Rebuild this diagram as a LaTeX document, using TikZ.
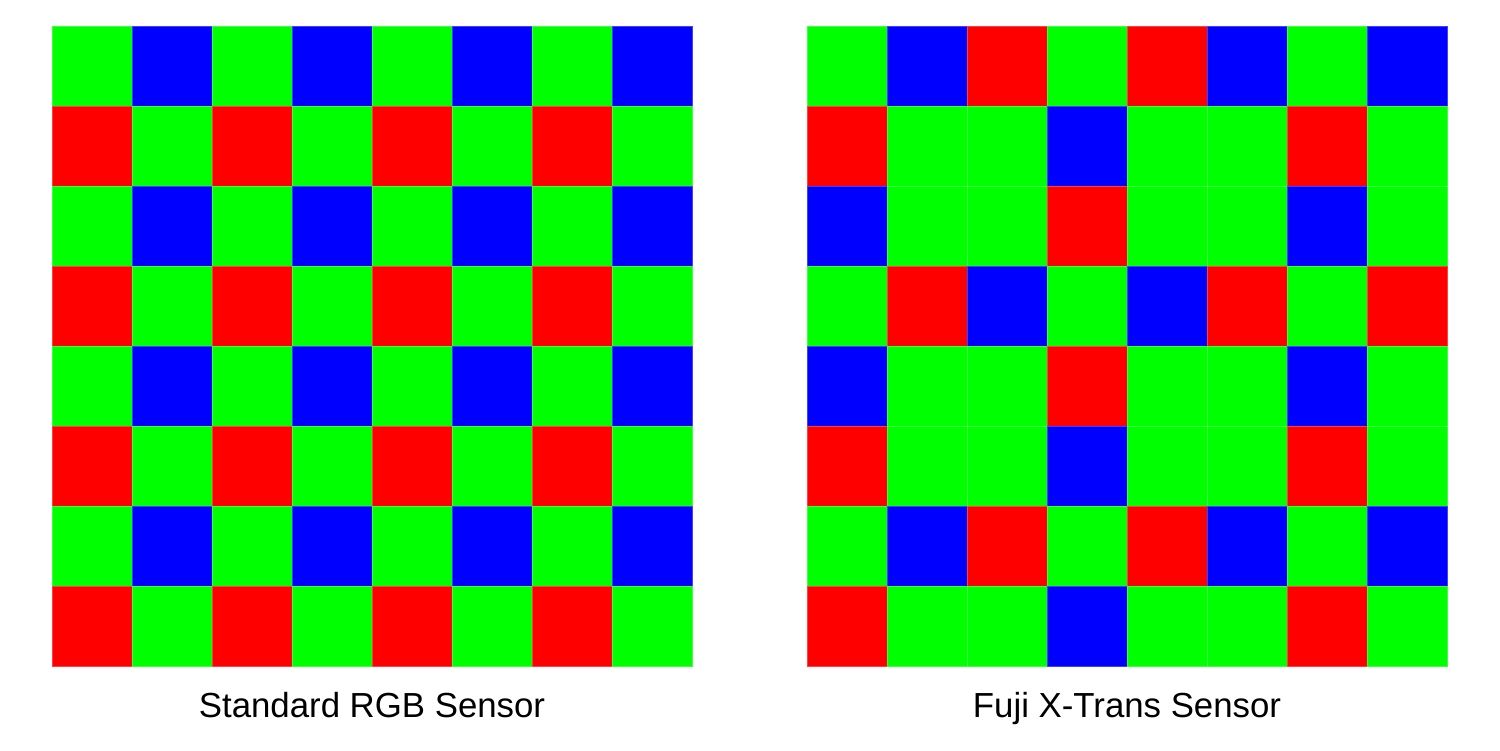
\documentclass[tikz,border=0pt]{standalone}
\usepackage{fontspec}
\setmainfont{Liberation Sans}
\usepackage{tikz}
\usetikzlibrary{positioning}

\definecolor{cellR}{RGB}{255,0,0}
\definecolor{cellG}{RGB}{0,255,0}
\definecolor{cellB}{RGB}{0,0,255}

\tikzset{
  pixel/.style={fill=cell#1, draw=cell#1!75!white, line width=0.2pt},
  caption/.style={anchor=base, font=\fontsize{19.8}{24}\selectfont}
}

\begin{document}
\begin{tikzpicture}
			
			\useasboundingbox (0,0) rectangle (30,15);
			\fill[white] (0,0) rectangle (30,15);
			
			% Bayer
			\begin{scope}[xshift=1.04cm, yshift=14.48cm]
				\foreach \row [count=\r from 0] in {{G,B,G,B,G,B,G,B},{R,G,R,G,R,G,R,G},{G,B,G,B,G,B,G,B},{R,G,R,G,R,G,R,G},{G,B,G,B,G,B,G,B},{R,G,R,G,R,G,R,G},{G,B,G,B,G,B,G,B},{R,G,R,G,R,G,R,G}}{
					\foreach \col [count=\c from 0] in \row {
						\path[pixel=\col] (1.6*\c,-1.6*\r) rectangle (1.6*\c+1.6,-1.6*\r-1.6);
					}
				}
				\node[caption] (bayerlabel) at (6.4,-13.82) {Standard RGB Sensor};
			\end{scope}
			
			% X-Trans
			\begin{scope}[xshift=16.14cm, yshift=14.48cm]
				\foreach \row [count=\r from 0] in {{G,B,R,G,R,B,G,B},{R,G,G,B,G,G,R,G},{B,G,G,R,G,G,B,G},{G,R,B,G,B,R,G,R},{B,G,G,R,G,G,B,G},{R,G,G,B,G,G,R,G},{G,B,R,G,R,B,G,B},{R,G,G,B,G,G,R,G}}{
					\foreach \col [count=\c from 0] in \row {
						\path[pixel=\col] (1.6*\c,-1.6*\r) rectangle (1.6*\c+1.6,-1.6*\r-1.6);
					}
				}
				\node[caption] (xtranslabel) at (6.4,-13.82) {Fuji X-Trans Sensor};
			\end{scope}
			
		\end{tikzpicture}
\end{document}
